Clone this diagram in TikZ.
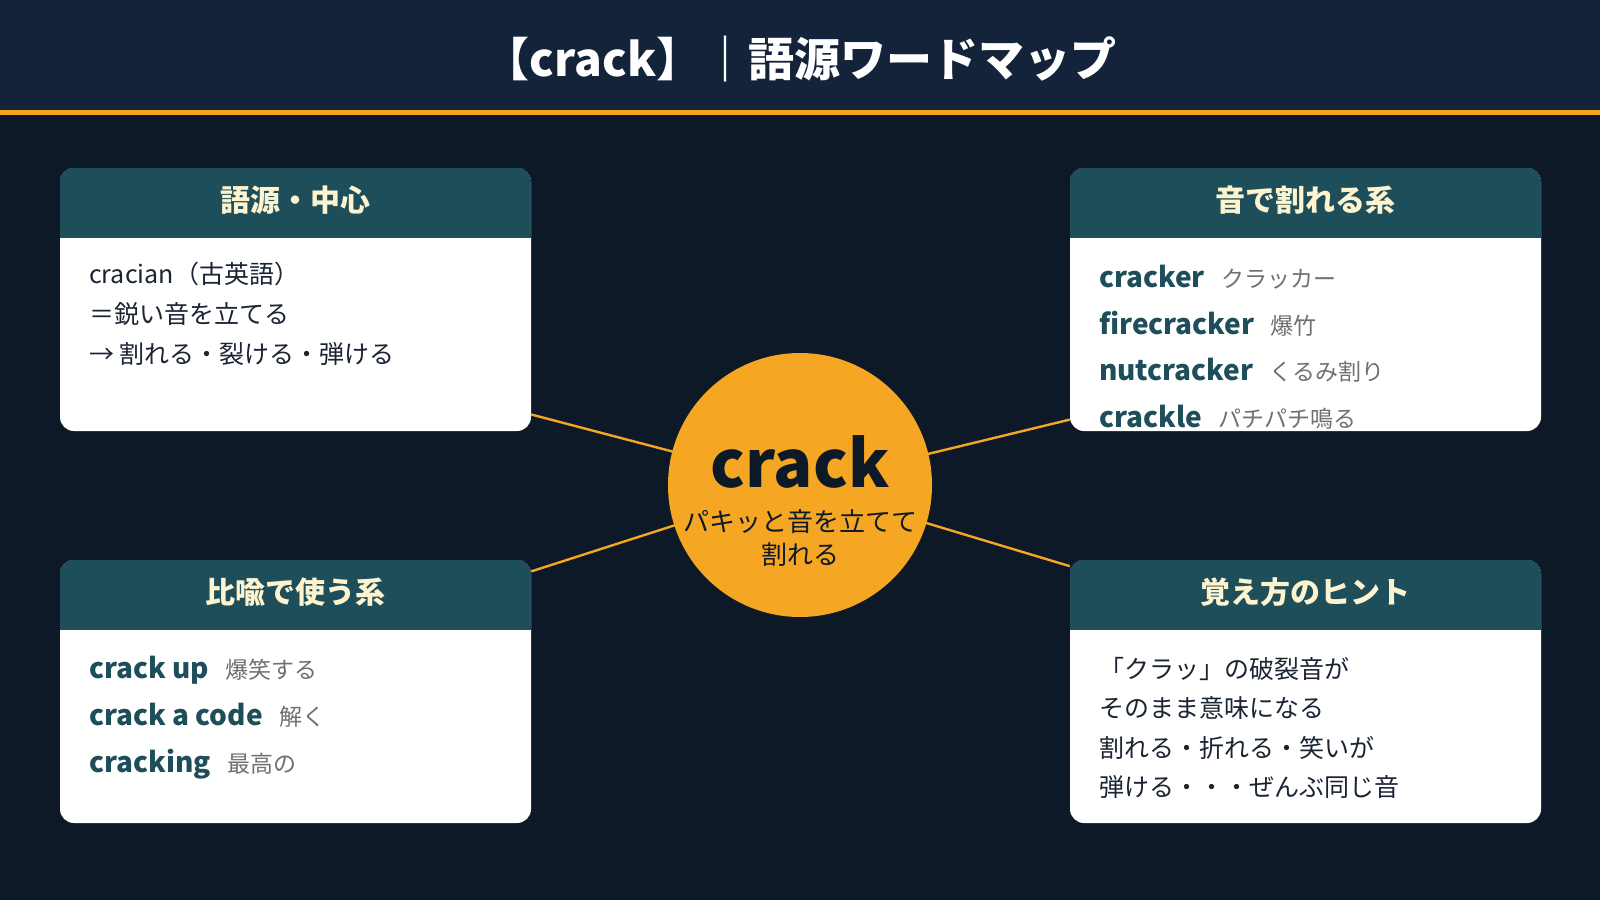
\documentclass[tikz,border=0pt]{standalone}
\usepackage{fontspec}
\setmainfont{Noto Sans CJK JP}
\usetikzlibrary{positioning}

\pgfdeclarelayer{back}
\pgfsetlayers{back,main}

\definecolor{pagebg}{HTML}{0E1928}
\definecolor{bandbg}{HTML}{13233A}
\definecolor{accent}{HTML}{F5A623}
\definecolor{headteal}{HTML}{1D4E5A}
\definecolor{cream}{HTML}{FDF3CF}
\definecolor{ink}{HTML}{1A2433}
\definecolor{mute}{HTML}{707070}

\tikzset{
  card/.style={fill=white, rounded corners=14pt, minimum width=471pt, minimum height=263pt, inner sep=0pt},
  cardhead/.style={text=cream, font=\bfseries\fontsize{30}{30}\selectfont},
  body/.style={anchor=base west, inner sep=0pt, text=ink, font=\fontsize{25}{25}\selectfont},
  term/.style={anchor=base west, inner sep=0pt, text=headteal, font=\bfseries\fontsize{28}{28}\selectfont},
  gloss/.style={anchor=base west, inner sep=0pt, text=mute, font=\fontsize{23}{23}\selectfont},
  link/.style={draw=accent, line width=2.4pt},
}

\begin{document}
\begin{tikzpicture}[x=1pt,y=-1pt]
  \useasboundingbox (0,0) rectangle (1600,900);
  \begin{pgfonlayer}{back}
    \fill[pagebg] (0,0) rectangle (1600,900);
    \fill[bandbg] (0,0) rectangle (1600,110);
    \fill[accent] (0,110) rectangle (1600,115);
  \end{pgfonlayer}
  \node[anchor=base, inner sep=0pt, text=white, font=\bfseries\fontsize{46}{46}\selectfont] (title) at (800,76) {【crack】｜語源ワードマップ};

  % the four cards
  \node[card] (root) at (295.5,299.5) {};
  \node[card] (sound) at (1305.5,299.5) {};
  \node[card] (meta) at (295.5,691.5) {};
  \node[card] (hint) at (1305.5,691.5) {};
  \foreach \c in {root,sound,meta,hint} {
    \begin{scope}
      \clip[rounded corners=14pt] (\c.south west) rectangle (\c.north east);
      \fill[headteal] (\c.north west) rectangle ([yshift=-70pt]\c.north east);
    \end{scope}
  }
  \node[cardhead] (rootT) at ([yshift=-32pt]root.north) {語源・中心};
  \node[cardhead] (soundT) at ([yshift=-32pt]sound.north) {音で割れる系};
  \node[cardhead] (metaT) at ([yshift=-32pt]meta.north) {比喩で使う系};
  \node[cardhead] (hintT) at ([yshift=-32pt]hint.north) {覚え方のヒント};

  % top left
  \node[body] (r1) at (89,283) {cracian（古英語）};
  \node[body] (r2) at (89,323) {＝鋭い音を立てる};
  \node[body] (r3) at (89,363) {→ 割れる・裂ける・弾ける};

  % top right
  \begin{scope}
    \clip[rounded corners=14pt] (sound.south west) rectangle (sound.north east);
    \node[term] (s1) at (1099,287) {cracker};
    \node[gloss, base right=16pt of s1] (s1g) {クラッカー};
    \node[term] (s2) at (1099,334) {firecracker};
    \node[gloss, base right=16pt of s2] (s2g) {爆竹};
    \node[term] (s3) at (1099,380) {nutcracker};
    \node[gloss, base right=16pt of s3] (s3g) {くるみ割り};
    \node[term] (s4) at (1099,427) {crackle};
    \node[gloss, base right=16pt of s4] (s4g) {パチパチ鳴る};
  \end{scope}

  % bottom left
  \node[term] (m1) at (89,678) {crack up};
  \node[gloss, base right=16pt of m1] (m1g) {爆笑する};
  \node[term] (m2) at (89,725) {crack a code};
  \node[gloss, base right=16pt of m2] (m2g) {解く};
  \node[term] (m3) at (89,772) {cracking};
  \node[gloss, base right=16pt of m3] (m3g) {最高の};

  % bottom right
  \node[body] (h1) at (1099,678) {「クラッ」の破裂音が};
  \node[body] (h2) at (1099,717) {そのまま意味になる};
  \node[body] (h3) at (1099,757) {割れる・折れる・笑いが};
  \node[body] (h4) at (1099,796) {弾ける・・・ぜんぶ同じ音};

  % centre
  \node[circle, fill=accent, minimum size=264pt, inner sep=0pt] (core) at (800,485) {};
  \node[anchor=base, inner sep=0pt, text=pagebg, font=\bfseries\fontsize{65}{65}\selectfont] (word) at (800,487) {crack};
  \node[anchor=base, inner sep=0pt, text=pagebg, font=\fontsize{26}{26}\selectfont] (sub1) at (800,531) {パキッと音を立てて};
  \node[anchor=base, inner sep=0pt, text=pagebg, font=\fontsize{26}{26}\selectfont] (sub2) at (800,564) {割れる};

  \begin{pgfonlayer}{back}
    \draw[link] (core.center) -- (root.-26.6);
    \draw[link] (core.center) -- (sound.-153.4);
    \draw[link] (core.center) -- (meta.27.7);
    \draw[link] (core.center) -- (hint.152.3);
  \end{pgfonlayer}
\end{tikzpicture}
\end{document}
